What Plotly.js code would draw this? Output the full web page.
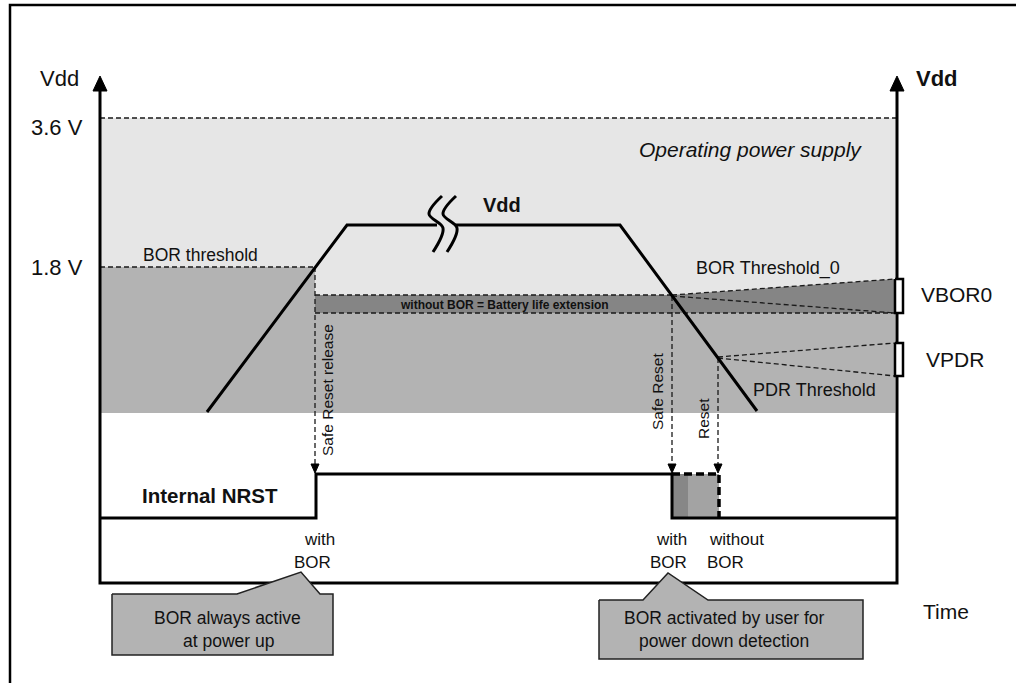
<!DOCTYPE html>
<html>
<head>
<meta charset="utf-8">
<script src="https://cdn.plot.ly/plotly-3.0.1.min.js"></script>
<style>
html,body{margin:0;padding:0;background:#fff;}
#chart{width:1016px;height:683px;}
</style>
</head>
<body>
<div id="chart"></div>
<script>
// ---- Diagram geometry (time on x, level on y, in drawing units) ----
const frameX = [10, 10, 1016];
const frameY = [683, 5, 5];

const supplyZoneX = [100, 897, 897, 100];
const supplyZoneY = [118, 118, 413, 413];

const borZoneX = [100, 315, 315, 895, 895, 100];
const borZoneY = [267, 267, 313, 313, 413, 413];

const batteryBandX = [315, 672, 895, 895, 315];
const batteryBandY = [295, 295, 279, 313, 313];

const vddRiseX = [207, 347, 437];
const vddRiseY = [412, 225, 225];
const vddFallX = [455, 620, 757];
const vddFallY = [225, 225, 411];

const break1X = [442, 429, 443, 433];
const break1Y = [196, 214, 228, 252];
const break2X = [456, 443, 457, 447];
const break2Y = [196, 214, 228, 252];

const level36X = [100, 897];  const level36Y = [118, 118];
const borThrX = [100, 315];   const borThrY = [267, 267];
const bandTopX = [315, 672];  const bandTopY = [295, 295];
const bandBotX = [315, 895];  const bandBotY = [313, 313];
const bor0UpX = [672, 895];   const bor0UpY = [295, 279];
const bor0LoX = [672, 895];   const bor0LoY = [296, 313];
const pdrUpX = [718, 895];    const pdrUpY = [357, 343];
const pdrLoX = [718, 895];    const pdrLoY = [358, 376];

const safeRelX = [315, 315];  const safeRelY = [267, 466];
const safeRstX = [672, 672];  const safeRstY = [296, 466];
const rstX = [718, 718];      const rstY = [358, 466];
const arrowTipY = 473;

const axisLX = [100, 100, 897, 897];
const axisLY = [90, 583, 583, 90];
const axisTipY = 76;

const vbor0BoxX = [895, 903, 903, 895, 895]; const vbor0BoxY = [279, 279, 313, 313, 279];
const vpdrBoxX = [895, 903, 903, 895, 895];  const vpdrBoxY = [343, 343, 376, 376, 343];

const nrstX = [100, 316, 316, 672, 672, 897];
const nrstY = [518, 518, 474, 474, 518, 518];
const rstDarkX = [672, 688, 688, 672]; const rstDarkY = [474, 474, 518, 518];
const rstLightX = [688, 719, 719, 688]; const rstLightY = [474, 474, 518, 518];
const rstDashX = [672, 719, 719]; const rstDashY = [474, 474, 518];

const callout1X = [112, 237, 301, 320, 333, 333, 112, 112];
const callout1Y = [594, 594, 572, 594, 594, 655, 655, 594];
const callout2X = [599, 643, 668, 708, 863, 863, 599, 599];
const callout2Y = [600, 600, 573, 600, 600, 659, 659, 600];

// ---- Labels ----
const labels = [
  {t: 'Vdd', x: 59, y: 78, s: 22},
  {t: '<b>Vdd</b>', x: 937, y: 78, s: 22},
  {t: '3.6 V', x: 57, y: 127, s: 22},
  {t: '1.8 V', x: 57, y: 267, s: 22},
  {t: '<i>Operating power supply</i>', x: 750, y: 149, s: 21},
  {t: '<b>Vdd</b>', x: 502, y: 205, s: 20},
  {t: 'BOR threshold', x: 200, y: 255, s: 17.5},
  {t: 'BOR Threshold_0', x: 768, y: 268, s: 18},
  {t: '<b>without BOR = Battery life extension</b>', x: 504, y: 305, s: 12},
  {t: 'VBOR0', x: 956, y: 294, s: 21},
  {t: 'VPDR', x: 955, y: 359, s: 21},
  {t: 'PDR Threshold', x: 814, y: 390, s: 18},
  {t: '<b>Internal NRST</b>', x: 210, y: 495, s: 20.5},
  {t: 'with', x: 319, y: 539, s: 17},
  {t: 'BOR', x: 312, y: 562, s: 17},
  {t: 'with', x: 671, y: 539, s: 17},
  {t: 'BOR', x: 668, y: 562, s: 17},
  {t: 'without', x: 736, y: 539, s: 17},
  {t: 'BOR', x: 725, y: 562, s: 17},
  {t: 'BOR always active', x: 227, y: 618, s: 17.5},
  {t: 'at power up', x: 228, y: 641, s: 17.5},
  {t: 'BOR activated by user for', x: 724, y: 618, s: 17.5},
  {t: 'power down detection', x: 724, y: 641, s: 17.5},
  {t: 'Time', x: 946, y: 611, s: 21}
];
const rotLabels = [
  {t: 'Safe Reset release', x: 327, y: 390, s: 15.5},
  {t: 'Safe Reset', x: 657, y: 392, s: 15.5},
  {t: 'Reset', x: 703, y: 419, s: 15.5}
];

// ---- Build traces ----
const FONT = 'Liberation Sans, Arial, Helvetica, sans-serif';
const traces = [];
function poly(x, y, fill, lc, lw) {
  traces.push({type: 'scatter', mode: 'lines', x: x, y: y, fill: 'toself', fillcolor: fill,
    line: {color: lc || fill, width: lw === undefined ? 0 : lw}, hoverinfo: 'skip'});
}
function line(x, y, c, w, dash, shape) {
  traces.push({type: 'scatter', mode: 'lines', x: x, y: y,
    line: {color: c, width: w, dash: dash || 'solid', shape: shape || 'linear'}, hoverinfo: 'skip'});
}
function arrowDown(xs, tipY) {
  traces.push({type: 'scatter', mode: 'lines', fill: 'toself', fillcolor: '#000',
    x: [xs - 4, xs + 4, xs, xs - 4], y: [tipY - 9, tipY - 9, tipY, tipY - 9],
    line: {color: '#000', width: 1}, hoverinfo: 'skip'});
}
function arrowUp(xs, tipY) {
  traces.push({type: 'scatter', mode: 'lines', fill: 'toself', fillcolor: '#000',
    x: [xs - 7, xs + 7, xs, xs - 7], y: [tipY + 15, tipY + 15, tipY, tipY + 15],
    line: {color: '#000', width: 1}, hoverinfo: 'skip'});
}

// zones
poly(supplyZoneX, supplyZoneY, '#e6e6e6');
poly(borZoneX, borZoneY, '#b3b3b3');
poly(batteryBandX, batteryBandY, '#858585');

// dashed levels
const DC = '#1a1a1a', DW = 1.3, DS = '5px,3px';
[[level36X, level36Y], [borThrX, borThrY], [bandTopX, bandTopY], [bandBotX, bandBotY],
 [bor0UpX, bor0UpY], [bor0LoX, bor0LoY], [pdrUpX, pdrUpY], [pdrLoX, pdrLoY],
 [safeRelX, safeRelY], [safeRstX, safeRstY], [rstX, rstY]].forEach(p => line(p[0], p[1], DC, DW, DS));
arrowDown(safeRelX[0], arrowTipY);
arrowDown(safeRstX[0], arrowTipY);
arrowDown(rstX[0], arrowTipY);

// Vdd curve
line(vddRiseX, vddRiseY, '#000', 3);
line(vddFallX, vddFallY, '#000', 3);
line(break1X, break1Y, '#000', 3, 'solid', 'spline');
line(break2X, break2Y, '#000', 3, 'solid', 'spline');

// NRST reset box
poly(rstDarkX, rstDarkY, '#878787');
poly(rstLightX, rstLightY, '#a3a3a3');
line(nrstX, nrstY, '#000', 3);
line(rstDashX, rstDashY, '#000', 3.5, '8px,4px');

// axes
line(axisLX, axisLY, '#000', 3);
arrowUp(axisLX[0], axisTipY);
arrowUp(axisLX[3], axisTipY);
poly(vbor0BoxX, vbor0BoxY, '#ffffff', '#000', 2.5);
poly(vpdrBoxX, vpdrBoxY, '#ffffff', '#000', 2.5);

// frame
line(frameX, frameY, '#000', 2.5);

// callouts
poly(callout1X, callout1Y, '#b3b3b3', '#222', 1.5);
poly(callout2X, callout2Y, '#b3b3b3', '#222', 1.5);

const annotations = labels.map(l => ({
  x: l.x, y: l.y, xref: 'x', yref: 'y', text: l.t, showarrow: false,
  xanchor: 'center', yanchor: 'middle', font: {family: FONT, size: l.s, color: '#111'}
})).concat(rotLabels.map(l => ({
  x: l.x, y: l.y, xref: 'x', yref: 'y', text: l.t, showarrow: false, textangle: -90,
  xanchor: 'center', yanchor: 'middle', font: {family: FONT, size: l.s, color: '#111'}
})));

const layout = {
  width: 1016, height: 683,
  margin: {l: 0, r: 0, t: 0, b: 0, pad: 0},
  paper_bgcolor: '#ffffff', plot_bgcolor: '#ffffff',
  showlegend: false,
  xaxis: {range: [0, 1016], visible: false, fixedrange: true},
  yaxis: {range: [683, 0], visible: false, fixedrange: true},
  annotations: annotations
};
Plotly.newPlot('chart', traces, layout, {staticPlot: true, displayModeBar: false});
</script>
</body>
</html>
